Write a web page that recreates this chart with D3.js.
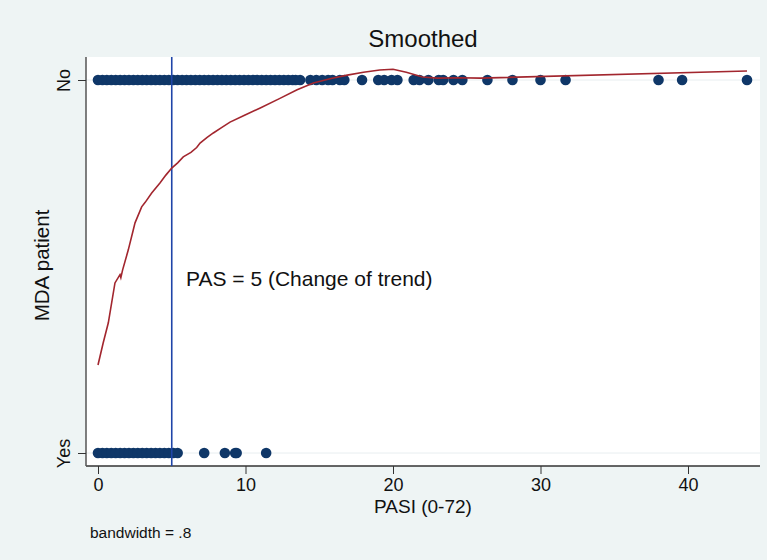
<!DOCTYPE html>
<html>
<head>
<meta charset="utf-8">
<script src="https://cdn.jsdelivr.net/npm/d3@7"></script>
<style>
  body { margin: 0; background: #eef4f4; }
  text { font-family: "Liberation Sans", Arial, sans-serif; fill: #111; }
</style>
</head>
<body>
<div id="chart"></div>
<script>
// MDA patient coded 0 = Yes, 1 = No
const categories = ["Yes", "No"];
const xTicks = [0, 10, 20, 30, 40];

// PASI values of patients with MDA = No
const pasiNo = [
  0.0, 0.3, 0.6, 0.9, 1.2, 1.5, 1.8, 2.1, 2.4, 2.7, 3.0, 3.3, 3.6, 3.9,
  4.2, 4.5, 4.8, 5.1, 5.4, 5.7, 6.0, 6.3, 6.6, 6.9, 7.2, 7.5, 7.8, 8.1,
  8.4, 8.7, 9.0, 9.3, 9.6, 9.9, 10.2, 10.5, 10.8, 11.1, 11.4, 11.7,
  12.0, 12.3, 12.6, 12.9, 13.2, 13.4, 13.7, 14.4, 14.8, 15.2, 15.6,
  15.9, 16.4, 16.7, 17.9, 19.0, 19.4, 19.9, 20.3, 21.4, 21.8, 22.4,
  23.1, 23.4, 24.1, 24.7, 26.4, 28.1, 30.0, 31.7, 38.0, 39.6, 44.0
];

// PASI values of patients with MDA = Yes
const pasiYes = [
  0.0, 0.3, 0.6, 0.9, 1.2, 1.5, 1.8, 2.1, 2.4, 2.7, 3.0, 3.3, 3.6,
  3.9, 4.2, 4.5, 4.8, 5.1, 5.4, 7.2, 8.6, 9.3, 9.4, 11.4
];

// lowess smooth (bandwidth .8)
const smoothX = [0, 0.35, 0.7, 1.15, 1.49, 1.55, 1.67, 2.05, 2.39, 2.51, 2.96, 3.2, 3.64,
  4.2, 4.6, 5.0, 5.4, 5.78, 6.3, 6.69, 6.92, 7.4, 7.82, 8.4, 8.95, 9.9, 11.0, 12.3, 13.5, 14.6,
  15.8, 16.9, 18.0, 19.1, 20.0, 20.9, 22.0, 23.0, 24.5, 25.9, 44.0];
const smoothY = [0.236, 0.295, 0.349, 0.456, 0.478, 0.470, 0.491, 0.544, 0.598, 0.617, 0.660, 0.672, 0.697,
  0.724, 0.745, 0.764, 0.778, 0.794, 0.806, 0.819, 0.831, 0.846, 0.858, 0.873, 0.887, 0.905, 0.925, 0.950, 0.974, 0.992,
  1.004, 1.013, 1.021, 1.027, 1.029, 1.021, 1.008, 1.005, 1.006, 1.005, 1.024];

const cutoff = 5;

const width = 767, height = 560;
const plot = { left: 86, right: 760, top: 57, bottom: 466 };

const svg = d3.select("#chart").append("svg")
  .attr("width", width)
  .attr("height", height);

svg.append("rect")
  .attr("width", width).attr("height", height)
  .attr("fill", "#eef4f4");

svg.append("rect")
  .attr("x", plot.left).attr("y", plot.top)
  .attr("width", plot.right - plot.left)
  .attr("height", plot.bottom - plot.top)
  .attr("fill", "#ffffff");

const x = d3.scaleLinear().domain([0, 44]).range([98, 747]);
const y = d3.scaleLinear().domain([0, 1]).range([453, 80]);

// gridlines
svg.append("g")
  .selectAll("line")
  .data([0, 1])
  .join("line")
  .attr("x1", plot.left).attr("x2", plot.right)
  .attr("y1", d => y(d)).attr("y2", d => y(d))
  .attr("stroke", "#e8eef0")
  .attr("stroke-width", 1);

// x axis
const xAxis = svg.append("g")
  .attr("transform", `translate(0,${plot.bottom})`)
  .call(d3.axisBottom(x).tickValues(xTicks).tickSize(8).tickPadding(4));
xAxis.select(".domain")
  .attr("d", `M${plot.left},0H${plot.right}`)
  .attr("stroke", "#333").attr("stroke-width", 1.5);
xAxis.selectAll(".tick line").attr("stroke", "#333");
xAxis.selectAll(".tick text")
  .attr("font-size", 18)
  .attr("font-family", "Liberation Sans, Arial, sans-serif")
  .attr("fill", "#111");

// y axis
const yAxis = svg.append("g")
  .attr("transform", `translate(${plot.left},0)`)
  .call(d3.axisLeft(y).tickValues([0, 1]).tickFormat(d => categories[d]).tickSize(8));
yAxis.select(".domain")
  .attr("d", `M0,${plot.top}V${plot.bottom}`)
  .attr("stroke", "#555").attr("stroke-width", 1.5);
yAxis.selectAll(".tick line").attr("stroke", "#333");
yAxis.selectAll(".tick text")
  .attr("font-size", 18)
  .attr("font-family", "Liberation Sans, Arial, sans-serif")
  .attr("fill", "#111")
  .attr("text-anchor", "middle")
  .attr("transform", "rotate(-90)")
  .attr("x", 0)
  .attr("y", -16)
  .attr("dy", 0);

// scatter points
const pts = pasiNo.map(v => ({ x: v, y: 1 }))
  .concat(pasiYes.map(v => ({ x: v, y: 0 })));
svg.append("g")
  .selectAll("circle")
  .data(pts)
  .join("circle")
  .attr("cx", d => x(d.x))
  .attr("cy", d => y(d.y))
  .attr("r", 5.3)
  .attr("fill", "#0f3768");

// vertical reference line
svg.append("line")
  .attr("x1", x(cutoff)).attr("x2", x(cutoff))
  .attr("y1", plot.top).attr("y2", plot.bottom)
  .attr("stroke", "#1f45a8")
  .attr("stroke-width", 1.6);

// smoothed line
const line = d3.line()
  .x((d, i) => x(smoothX[i]))
  .y(d => y(d));
svg.append("path")
  .datum(smoothY)
  .attr("d", line)
  .attr("fill", "none")
  .attr("stroke", "#a2262e")
  .attr("stroke-width", 1.6);

// texts
svg.append("text")
  .attr("x", (plot.left + plot.right) / 2)
  .attr("y", 47)
  .attr("text-anchor", "middle")
  .attr("font-size", 24)
  .text("Smoothed");

svg.append("text")
  .attr("x", 186)
  .attr("y", 286)
  .attr("font-size", 21)
  .text("PAS = 5 (Change of trend)");

svg.append("text")
  .attr("x", (plot.left + plot.right) / 2)
  .attr("y", 513)
  .attr("text-anchor", "middle")
  .attr("font-size", 19)
  .text("PASI (0-72)");

svg.append("text")
  .attr("transform", `translate(49,${(plot.top + plot.bottom) / 2 + 4}) rotate(-90)`)
  .attr("text-anchor", "middle")
  .attr("font-size", 20.5)
  .text("MDA patient");

svg.append("text")
  .attr("x", 90)
  .attr("y", 538)
  .attr("font-size", 15.5)
  .text("bandwidth = .8");
</script>
</body>
</html>
